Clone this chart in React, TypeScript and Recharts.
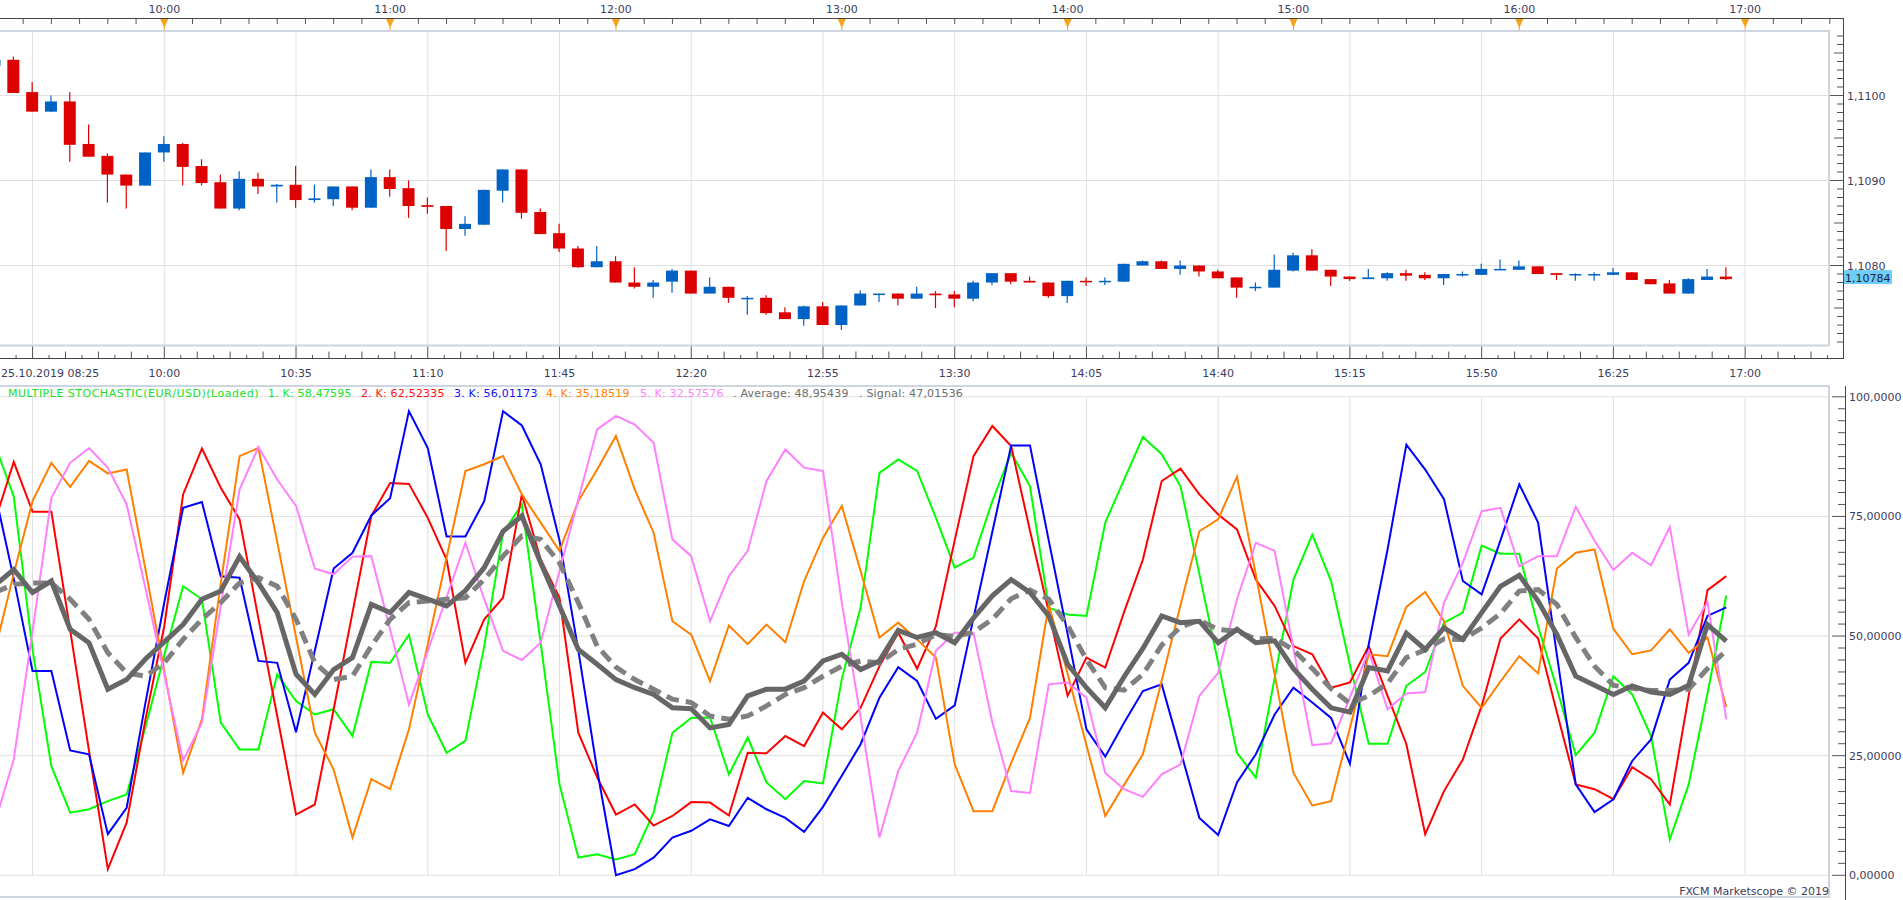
import React from 'react';
import { ComposedChart, LineChart, Line, Bar, XAxis, YAxis, CartesianGrid } from 'recharts';

// 5-minute EUR/USD candles, 09:15 .. 16:55 (index 0 .. 92)
const OPEN = [
  1.11035, 1.11042, 1.11004, 1.10981, 1.10993, 1.10943, 1.10929, 1.10907, 1.10894, 1.10933,
  1.10943, 1.10917, 1.10898, 1.10867, 1.10902, 1.10893, 1.10895, 1.10877, 1.10878, 1.10893,
  1.10868, 1.10904, 1.10891, 1.10871, 1.1087, 1.10843, 1.10848, 1.10888, 1.10913, 1.10863,
  1.10838, 1.1082, 1.10798, 1.10805, 1.1078, 1.10775, 1.10781, 1.10794, 1.10767, 1.10775,
  1.10761, 1.10762, 1.10745, 1.10737, 1.10752, 1.1073, 1.10753, 1.10766, 1.10767, 1.10761,
  1.10767, 1.10766, 1.10761, 1.1078, 1.10791, 1.10782, 1.1078, 1.10764, 1.10782, 1.10781,
  1.10781, 1.108, 1.10805, 1.10796, 1.108, 1.10793, 1.10786, 1.10774, 1.10774, 1.10794,
  1.10812, 1.10795, 1.10787, 1.10784, 1.10785, 1.10791, 1.10789, 1.10785, 1.10789, 1.10789,
  1.10795, 1.10795, 1.10799, 1.10791, 1.10789, 1.10789, 1.10789, 1.10792, 1.10784, 1.10779,
  1.10767, 1.10783, 1.10787,
];
const HIGH = [
  1.11045, 1.11046, 1.11016, 1.11, 1.11004, 1.10966, 1.10932, 1.10907, 1.10933, 1.10952,
  1.10944, 1.10925, 1.10907, 1.10911, 1.10909, 1.10896, 1.10917, 1.10895, 1.10893, 1.10893,
  1.10913, 1.10913, 1.109, 1.1088, 1.1087, 1.10858, 1.10889, 1.10913, 1.10913, 1.10867,
  1.10849, 1.10823, 1.10823, 1.10811, 1.10798, 1.10783, 1.10796, 1.10794, 1.10786, 1.10775,
  1.10764, 1.10765, 1.10751, 1.10753, 1.10757, 1.10753, 1.10771, 1.10767, 1.10767, 1.10775,
  1.1077, 1.1077, 1.10782, 1.10791, 1.10791, 1.10787, 1.1078, 1.10782, 1.10786, 1.10786,
  1.10802, 1.10806, 1.10806, 1.10806, 1.108, 1.10795, 1.10786, 1.1078, 1.10813, 1.10815,
  1.10819, 1.10795, 1.10787, 1.10796, 1.10792, 1.10795, 1.10792, 1.1079, 1.10793, 1.10802,
  1.10807, 1.10806, 1.10799, 1.10791, 1.10791, 1.10792, 1.10797, 1.10792, 1.10784, 1.10783,
  1.10785, 1.10796, 1.10798,
];
const LOW = [
  1.11035, 1.11003, 1.10981, 1.10981, 1.10922, 1.10928, 1.10874, 1.10867, 1.10894, 1.10922,
  1.10894, 1.10894, 1.10867, 1.10865, 1.10884, 1.10874, 1.10868, 1.10874, 1.1087, 1.10865,
  1.10868, 1.10881, 1.10856, 1.10861, 1.10817, 1.10835, 1.10848, 1.10874, 1.10855, 1.10837,
  1.10816, 1.10797, 1.10798, 1.1078, 1.10773, 1.10762, 1.10768, 1.10767, 1.10767, 1.10756,
  1.10742, 1.10742, 1.10737, 1.10729, 1.1073, 1.10724, 1.10753, 1.10757, 1.10753, 1.10761,
  1.1075, 1.10751, 1.10758, 1.10777, 1.10778, 1.1078, 1.10762, 1.10756, 1.10776, 1.10777,
  1.10781, 1.108, 1.10796, 1.10789, 1.10787, 1.10785, 1.10762, 1.1077, 1.10774, 1.10793,
  1.10794, 1.10776, 1.10782, 1.10784, 1.10782, 1.10782, 1.10783, 1.10777, 1.10787, 1.10789,
  1.10795, 1.10795, 1.1079, 1.10783, 1.10782, 1.10782, 1.10789, 1.10783, 1.10778, 1.10767,
  1.10767, 1.10783, 1.10783,
];
const CLOSE = [
  1.11042, 1.11003, 1.10981, 1.10993, 1.10942, 1.10928, 1.10907, 1.10894, 1.10933, 1.10943,
  1.10916, 1.10897, 1.10867, 1.10902, 1.10893, 1.10895, 1.10877, 1.10879, 1.10893, 1.10868,
  1.10904, 1.1089, 1.1087, 1.10869, 1.10843, 1.10849, 1.10889, 1.10913, 1.10862, 1.10837,
  1.1082, 1.10798, 1.10805, 1.1078, 1.10775, 1.1078, 1.10794, 1.10767, 1.10775, 1.10762,
  1.10762, 1.10744, 1.10737, 1.10752, 1.1073, 1.10753, 1.10767, 1.10767, 1.10761, 1.10767,
  1.10765, 1.10761, 1.1078, 1.10791, 1.10781, 1.1078, 1.10764, 1.10782, 1.10781, 1.10782,
  1.10802, 1.10805, 1.10796, 1.108, 1.10793, 1.10785, 1.10774, 1.10775, 1.10795, 1.10812,
  1.10794, 1.10787, 1.10784, 1.10786, 1.10791, 1.10788, 1.10785, 1.1079, 1.1079, 1.10796,
  1.10796, 1.10799, 1.1079, 1.10789, 1.1079, 1.1079, 1.10792, 1.10783, 1.10778, 1.10767,
  1.10784, 1.10787, 1.10784,
];

// stochastic %K lines and their average / signal
const K1 = [
  90, 79.2, 47.2, 22.8, 13.1, 13.8, 15.5, 16.9, 31, 46,
  60.4, 57.7, 31.9, 26.3, 26.3, 42, 36.4, 33.6, 34.7, 29.1,
  44.6, 44.4, 50.3, 33.6, 25.6, 28.1, 47.9, 71.6, 77.5, 48.5,
  19, 3.7, 4.4, 3.3, 4.4, 13.1, 29.8, 32.9, 33, 21.1,
  28.8, 19.4, 15.9, 19.7, 19.2, 41, 56, 84.1, 86.9, 84.5,
  74.7, 64.3, 66.4, 78.2, 88.3, 81.3, 55.9, 54.5, 54.2, 73.7,
  82.7, 91.6, 88, 81.3, 63, 44.4, 25.6, 20.4, 41.2, 61.8,
  71.2, 61.5, 44, 27.5, 27.5, 39.6, 42.5, 52.8, 54.9, 68.9,
  67.2, 67.2, 52, 39, 25.1, 29.8, 41.6, 37.8, 29.1, 7.5,
  19, 38, 58.48,
];
const K2 = [
  74, 86.4, 76, 76, 51.2, 26, 1.3, 11, 32.6, 52.1,
  79.6, 89.2, 81, 74.4, 53.7, 33.3, 12.7, 14.8, 34.7, 54.9,
  75.1, 82, 81.8, 74.7, 66, 44.4, 53.5, 58, 79.6, 66,
  58, 29.8, 20.5, 12.7, 14.8, 10.4, 12.4, 15.3, 15.2, 12.5,
  25.6, 25.5, 29.1, 27, 34, 30.5, 35, 43.7, 50.7, 43.2,
  52, 70, 87.6, 93.9, 89.7, 72, 55, 37.5, 45.5, 43.4,
  55, 66, 82.4, 85, 79.6, 75.4, 72.3, 61.8, 56.3, 47.9,
  46.2, 39.2, 40.3, 47.9, 37.5, 27.4, 8.6, 17.6, 24.2, 35.4,
  49.5, 53.5, 49.5, 34, 19, 18, 15.9, 22.6, 20.1, 14.8,
  37.5, 59.6, 62.52,
];
const K3 = [
  80, 62, 42.7, 42.7, 26.1, 25.3, 8.6, 14.1, 36.1, 57,
  76.8, 78, 62.5, 62.2, 44.8, 44.4, 29.9, 47, 64.1, 67.4,
  75.2, 78.8, 97, 89.3, 70.8, 70.8, 78.2, 97, 94, 85.9,
  70, 47, 22, 0, 1.3, 3.7, 7.9, 9.3, 11.7, 10.3,
  16.2, 13.8, 12, 9.1, 14.3, 20.8, 27.4, 37.1, 43.5, 40.6,
  32.7, 35.5, 53.8, 71.8, 89.8, 89.8, 69.9, 50.4, 30.5, 24.8,
  31.9, 38.5, 39.9, 26, 12, 8.4, 19.4, 25.3, 33.6, 39.2,
  36.1, 32.9, 23.3, 48.3, 68.1, 90, 84.8, 78.6, 61.5, 58.7,
  70, 81.7, 73.7, 46, 19, 13.2, 15.9, 23.9, 28.4, 40.9,
  44.4, 54.2, 56.01,
];
const K4 = [
  47, 63, 78.2, 86.2, 81.2, 86.6, 84, 84.8, 63.9, 42.7,
  21.4, 32.6, 61, 87.6, 89.3, 69.7, 49.8, 29.8, 22.1, 7.9,
  20.1, 18, 30.5, 48.3, 66.4, 84.5, 85.9, 87.6, 79.6, 73.7,
  67.8, 78.2, 84.8, 91.8, 80.6, 71.6, 53.1, 50.3, 40.6, 52.2,
  48.3, 52.4, 48.7, 61.5, 70.5, 77.2, 63.6, 49.7, 52.8, 49.3,
  45.5, 23.2, 13.4, 13.4, 23.5, 32.9, 56.6, 42.1, 27.2, 12.4,
  18.9, 25.3, 40.7, 56.5, 71.9, 74.4, 83.3, 62.8, 42, 21.4,
  14.6, 15.5, 30.8, 46.2, 45.8, 56.1, 59.2, 53.1, 39.6, 35,
  40.5, 45.8, 42.2, 64.1, 67.4, 68.1, 51.5, 46.2, 47, 51.4,
  46.5, 49.7, 35.19,
];
const K5 = [
  11, 24.2, 51, 78.9, 86.2, 89.3, 85.2, 77.5, 60, 42,
  24, 31.9, 56.3, 80.6, 89.5, 82.7, 77.2, 64.1, 62.9, 66.6,
  66.7, 51.4, 35.7, 46.9, 58.1, 69.5, 57.7, 46.9, 45, 48.6,
  63.6, 78.6, 93.2, 96, 94.2, 90.4, 70.2, 66.7, 53.1, 62.5,
  67.8, 82.4, 89, 85.2, 84.5, 57, 33, 7.9, 21.8, 29.8,
  46.9, 50.7, 50.7, 32, 17.6, 17.2, 39.9, 40.3, 37.1, 21.4,
  18, 16.4, 21.1, 23.2, 37.5, 42.3, 57.7, 69.5, 67.8, 47.4,
  27.2, 27.6, 37.2, 46.9, 34.7, 38, 38.3, 57, 65.3, 76.1,
  76.8, 64.6, 66.7, 66.7, 77, 69.9, 63.8, 67.4, 64.8, 72.8,
  50.3, 57.1, 32.58,
];
const AVG = [
  60.6, 63.9, 59.1, 61.5, 51.4, 48.6, 38.9, 40.9, 45.2, 48.8,
  52.4, 57.7, 59.4, 66.6, 61.1, 54.9, 42, 37.8, 43, 45.5,
  56.6, 54.9, 59.1, 57.7, 56.3, 59.5, 64.3, 71.9, 75.1, 65.3,
  56.3, 47.2, 44.1, 40.9, 39.2, 37.8, 35, 34.8, 30.8, 31.5,
  37.5, 38.9, 38.9, 40.6, 44.8, 46.2, 43, 44.8, 51.2, 49.7,
  50.7, 48.6, 53.8, 58.4, 61.8, 59.1, 54.2, 44.1, 39.2, 35,
  41.5, 47.4, 54.2, 52.8, 53.1, 48.6, 51.4, 48.6, 49, 43.2,
  38.9, 35, 34.1, 43.4, 42.7, 50.6, 47.2, 51.7, 49.3, 54.9,
  60.4, 62.7, 57.3, 50.3, 41.6, 39.7, 37.8, 39.6, 38.3, 37.8,
  39.7, 52.4, 48.95,
];
const SIGNAL = [
  59.1, 60.8, 61.1, 61.1, 57.7, 53.5, 46.5, 42.3, 41.6, 44.4,
  49.3, 53.5, 57, 61.1, 62.2, 60.4, 53.5, 44.4, 40.9, 41.6,
  47.9, 53.5, 57, 57.3, 57.7, 58, 61.8, 66.7, 70.9, 70.2,
  65.3, 57, 47.9, 43.5, 40.9, 38.9, 36.8, 36.1, 33.3, 32.6,
  33.3, 35.4, 37.8, 39.2, 41.6, 43.7, 44.8, 44.4, 47.2, 48.3,
  50.3, 49.9, 50.8, 53.5, 57.8, 59.6, 57.7, 52.2, 45.1, 39.2,
  38.7, 42, 48.1, 51.9, 53.3, 51.4, 51, 49.4, 49.5, 47.1,
  43.2, 39, 35.9, 37.5, 40.1, 45.5, 47.1, 49.4, 49.3, 51.7,
  54.7, 59.4, 59.7, 56.6, 49.7, 43.7, 39.7, 39.1, 38.6, 38.6,
  38.9, 43.2, 47.02,
];

// axis labels
const HOUR_TICKS = [9, 21, 33, 45, 57, 69, 81, 93];
const HOUR_LABELS = ['10:00', '11:00', '12:00', '13:00', '14:00', '15:00', '16:00', '17:00'];
const GRID_TICKS = [2, 9, 16, 23, 30, 37, 44, 51, 58, 65, 72, 79, 86, 93];
const GRID_LABELS = [
  '25.10.2019 08:25', '10:00', '10:35', '11:10', '11:45', '12:20', '12:55',
  '13:30', '14:05', '14:40', '15:15', '15:50', '16:25', '17:00',
];
const PRICE_GRID = [1.108, 1.109, 1.11];
const OSC_GRID = [0, 25, 50, 75, 100];
const LEGEND_TEXT = [
  'MULTIPLE STOCHASTIC(EUR/USD)(Loaded)', '1. K: 58,47595', '2. K: 62,52335', '3. K: 56,01173',
  '4. K: 35,18519', '5. K: 32,57576', '. Average: 48,95439', '. Signal: 47,01536',
];

const GREEN = '#00ff00';
const RED = '#ff0000';
const BLUE = '#0000ff';
const ORANGE = '#ff8000';
const PINK = '#ff80ff';
const CANDLE_UP = '#0062c4';
const CANDLE_DOWN = '#dd0000';
const AXIS_TEXT = '#3c3c5e';
const GRID = '#e0e0e0';
const FRAME = '#cdd5e0';
const FONT = 'Verdana, "DejaVu Sans", sans-serif';
const LEGEND_COLORS = ['#22e022', '#22e022', '#ff1010', '#1010ff', '#ff8000', '#ff80ff', '#6e6e6e', '#6e6e6e'];
const LEGEND_LEFT = [8, 268, 361, 454, 546, 640, 733, 859];
const LEGEND_SPACING = [0.5, 0.2, 0.2, 0.2, 0.2, 0.2, 0.2, 0.2];

const X_DOMAIN: [number, number] = [0.27, 97.51];
const PRICE_DOMAIN: [number, number] = [1.107065, 1.110747];
const LAST = CLOSE[CLOSE.length - 1];

const candles = OPEN.map((o, i) => ({
  i, open: o, high: HIGH[i], low: LOW[i], close: CLOSE[i], range: [LOW[i], HIGH[i]],
}));
const rows = K1.map((_, i) => ({
  i, k1: K1[i], k2: K2[i], k3: K3[i], k4: K4[i], k5: K5[i], avg: AVG[i], sig: SIGNAL[i],
}));

const inDomain = (v: number) => v >= X_DOMAIN[0] && v <= X_DOMAIN[1];
const TOP_STEP = 1.5;
const BOTTOM_STEP = 0.875;
const topTicks = Array.from({ length: 66 }, (_, k) => HOUR_TICKS[0] + TOP_STEP * (k - 6)).filter(inDomain);
const bottomTicks = Array.from({ length: 111 }, (_, k) => GRID_TICKS[0] + BOTTOM_STEP * (k - 1)).filter(inDomain);
const priceTicks = [...Array.from({ length: 37 }, (_, k) => (11071 + k) / 10000), LAST];
const oscTicks = Array.from({ length: 41 }, (_, k) => k * 2.5);

function Candle(props: any) {
  const { x, y, width, height, payload } = props;
  const { open, close, high, low } = payload;
  const k = height / (high - low);
  const yo = y + (high - open) * k;
  const yc = y + (high - close) * k;
  const color = close >= open ? CANDLE_UP : CANDLE_DOWN;
  const cx = x + width / 2;
  return (
    <g>
      <line x1={cx} x2={cx} y1={y} y2={y + height} stroke={color} strokeWidth={1.2} />
      <rect x={x} y={Math.min(yo, yc)} width={width} height={Math.max(1.5, Math.abs(yc - yo))} fill={color} />
    </g>
  );
}

function TopTick(props: any) {
  const { x, payload } = props;
  const k = Math.round((payload.value - HOUR_TICKS[0]) / TOP_STEP);
  const hour = k >= 0 && k % 8 === 0;
  return (
    <g>
      <line x1={x} x2={x} y1={18.5} y2={24} stroke="#555" />
      {hour && (
        <g>
          <polygon points={`${x - 4},19 ${x + 4},19 ${x},28`} fill="#f5a21c" />
          <line x1={x} x2={x} y1={27} y2={31} stroke="#f5a21c" />
          <text x={x} y={13} textAnchor="middle" fontFamily={FONT} fontSize={11} fill={AXIS_TEXT}>
            {HOUR_LABELS[k / 8]}
          </text>
        </g>
      )}
    </g>
  );
}

function BottomTick(props: any) {
  const { x, payload } = props;
  const k = Math.round((payload.value - GRID_TICKS[0]) / BOTTOM_STEP);
  const major = k % 8 === 0;
  const top = major ? 345 : k % 2 === 0 ? 351.5 : 355;
  const n = k / 8;
  return (
    <g>
      <line x1={x} x2={x} y1={top} y2={358} stroke="#555" />
      {major && (
        <text
          x={n === 0 ? 1 : x}
          y={376.5}
          textAnchor={n === 0 ? 'start' : 'middle'}
          fontFamily={FONT}
          fontSize={11}
          fill={AXIS_TEXT}
        >
          {GRID_LABELS[n]}
        </text>
      )}
    </g>
  );
}

function PriceTick(props: any) {
  const { y, payload } = props;
  const v = payload.value;
  if (v === LAST) {
    return (
      <g>
        <rect x={1844} y={y - 9} width={48} height={14} fill="#6ccdf7" />
        <text x={1845} y={y + 3} fontFamily={FONT} fontSize={11} fill="#1e1e3c">
          {v.toFixed(5).replace('.', ',')}
        </text>
      </g>
    );
  }
  const pip = Math.round(v * 10000);
  const major = pip % 10 === 0;
  return (
    <g>
      <line x1={major ? 1830 : pip % 5 === 0 ? 1834 : 1837} x2={1843} y1={y} y2={y} stroke="#555" />
      {major && (
        <text x={1847} y={y + 4} fontFamily={FONT} fontSize={11} fill={AXIS_TEXT}>
          {v.toFixed(4).replace('.', ',')}
        </text>
      )}
    </g>
  );
}

function OscTick(props: any) {
  const { y, payload } = props;
  const v = payload.value;
  const major = v % 25 === 0;
  return (
    <g>
      <line x1={major ? 1832 : 1838} x2={1845} y1={y} y2={y} stroke="#555" />
      {major && (
        <text x={1849} y={y + 4} fontFamily={FONT} fontSize={11} fill={AXIS_TEXT}>
          {v.toFixed(5).replace('.', ',').slice(0, 8)}
        </text>
      )}
    </g>
  );
}

export default function App() {
  return (
    <div style={{ position: 'absolute', left: 0, top: 0, width: 1903, height: 900, background: '#fff', overflow: 'hidden' }}>
      <div style={{ position: 'absolute', left: 0, top: 0 }}>
        <ComposedChart width={1903} height={380} data={candles} margin={{ top: 0, right: 0, bottom: 0, left: 0 }}>
          <CartesianGrid stroke={GRID} verticalValues={GRID_TICKS} horizontalValues={PRICE_GRID} />
          <XAxis
            xAxisId="top"
            orientation="top"
            dataKey="i"
            type="number"
            domain={X_DOMAIN}
            allowDataOverflow
            ticks={topTicks}
            interval={0}
            height={32}
            axisLine={false}
            tickLine={false}
            tick={<TopTick />}
          />
          <XAxis
            dataKey="i"
            type="number"
            domain={X_DOMAIN}
            allowDataOverflow
            ticks={bottomTicks}
            interval={0}
            height={35}
            axisLine={false}
            tickLine={false}
            tick={<BottomTick />}
          />
          <YAxis
            orientation="right"
            width={73}
            type="number"
            domain={PRICE_DOMAIN}
            allowDataOverflow
            ticks={priceTicks}
            interval={0}
            axisLine={false}
            tickLine={false}
            tick={<PriceTick />}
          />
          <Bar dataKey="range" barSize={12} shape={<Candle />} isAnimationActive={false} />
        </ComposedChart>
      </div>

      <div style={{ position: 'absolute', left: 0, top: 386 }}>
        <LineChart width={1903} height={514} data={rows} margin={{ top: 10.8, right: 0, bottom: 24.7, left: 0 }}>
          <CartesianGrid stroke={GRID} verticalValues={GRID_TICKS} horizontalValues={OSC_GRID} />
          <XAxis dataKey="i" type="number" domain={X_DOMAIN} allowDataOverflow hide />
          <YAxis
            orientation="right"
            width={73}
            type="number"
            domain={[0, 100]}
            ticks={oscTicks}
            interval={0}
            axisLine={false}
            tickLine={false}
            tick={<OscTick />}
          />
          <Line dataKey="k1" stroke={GREEN} strokeWidth={2} dot={false} isAnimationActive={false} />
          <Line dataKey="k2" stroke={RED} strokeWidth={2} dot={false} isAnimationActive={false} />
          <Line dataKey="k3" stroke={BLUE} strokeWidth={2} dot={false} isAnimationActive={false} />
          <Line dataKey="k4" stroke={ORANGE} strokeWidth={2} dot={false} isAnimationActive={false} />
          <Line dataKey="k5" stroke={PINK} strokeWidth={2} dot={false} isAnimationActive={false} />
          <Line dataKey="sig" stroke="#808080" strokeWidth={5} strokeDasharray="13 7" dot={false} isAnimationActive={false} />
          <Line dataKey="avg" stroke="#666666" strokeWidth={5} dot={false} isAnimationActive={false} />
        </LineChart>
      </div>

      {/* frames and axis lines */}
      <svg width={1903} height={900} style={{ position: 'absolute', left: 0, top: 0, pointerEvents: 'none' }}>
        <rect x={-2} y={31} width={1831} height={314.5} fill="none" stroke={FRAME} strokeWidth={2} />
        <rect x={-2} y={386} width={1831} height={511} fill="none" stroke={FRAME} strokeWidth={2} />
        <line x1={0} x2={1843} y1={18.5} y2={18.5} stroke="#444" />
        <line x1={0} x2={1843} y1={358.5} y2={358.5} stroke="#444" />
        <line x1={1843.5} x2={1843.5} y1={18} y2={359} stroke="#444" />
        <line x1={1845.5} x2={1845.5} y1={386} y2={900} stroke="#444" />
      </svg>

      {LEGEND_TEXT.map((t, n) => (
        <span
          key={t}
          style={{
            position: 'absolute', left: LEGEND_LEFT[n], top: 387, fontFamily: FONT, fontSize: 11,
            lineHeight: '14px', color: LEGEND_COLORS[n], whiteSpace: 'pre', letterSpacing: LEGEND_SPACING[n],
          }}
        >
          {t}
        </span>
      ))}
      <span
        style={{
          position: 'absolute', right: 1903 - 1829, top: 885, fontFamily: FONT, fontSize: 11,
          lineHeight: '14px', color: AXIS_TEXT, whiteSpace: 'pre',
        }}
      >
        FXCM Marketscope © 2019
      </span>
    </div>
  );
}
